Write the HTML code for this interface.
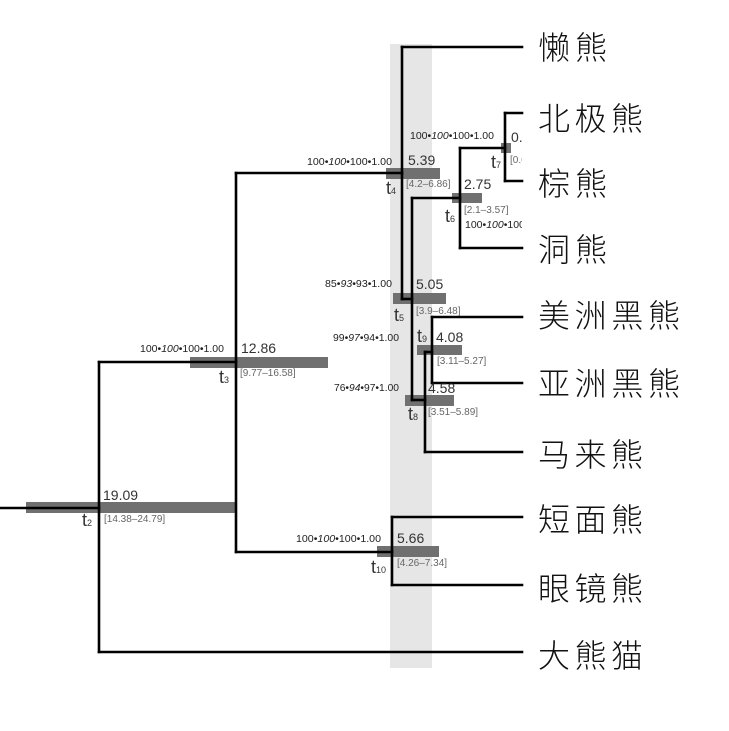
<!DOCTYPE html>
<html><head><meta charset="utf-8"><style>
html,body{margin:0;padding:0;background:#fff;}
svg{display:block;}
.sup{font-family:"Liberation Sans",sans-serif;font-size:10.5px;fill:#222;}
.num{font-family:"Liberation Sans",sans-serif;font-size:14px;fill:#333;}
.rng{font-family:"Liberation Sans",sans-serif;font-size:10px;fill:#666;}
.t{font-family:"Liberation Sans",sans-serif;font-size:18px;fill:#333;}
.ts{font-size:9px;}
.lab{font-family:"Liberation Sans","Noto Sans CJK SC",sans-serif;font-size:32px;fill:#111;font-weight:300;}
</style></head><body>
<svg width="729" height="731" viewBox="0 0 729 731" xmlns="http://www.w3.org/2000/svg">
<defs><clipPath id="c"><rect x="0" y="0" width="522" height="731"/></clipPath></defs>
<rect x="390" y="44" width="42" height="624" fill="#e6e6e6"/>
<g fill="#707070">
<rect x="26" y="502" width="210" height="11"/>
<rect x="190" y="357" width="138" height="11"/>
<rect x="386" y="168" width="54" height="11"/>
<rect x="452" y="193" width="30" height="10"/>
<rect x="501" y="143" width="10" height="10"/>
<rect x="393" y="293" width="53" height="11"/>
<rect x="417" y="345" width="45" height="10"/>
<rect x="405" y="395" width="49" height="11"/>
<rect x="377" y="546" width="62" height="11"/>
</g>
<g stroke="#000" stroke-width="2.6" fill="none" stroke-linecap="square">
<line x1="0" y1="508" x2="99" y2="508"/>
<line x1="99" y1="362" x2="99" y2="652"/>
<line x1="99" y1="362" x2="236" y2="362"/>
<line x1="99" y1="652" x2="522" y2="652"/>
<line x1="236" y1="173" x2="236" y2="552"/>
<line x1="236" y1="173" x2="402" y2="173"/>
<line x1="236" y1="552" x2="392" y2="552"/>
<line x1="402" y1="47" x2="402" y2="299"/>
<line x1="402" y1="47" x2="522" y2="47"/>
<line x1="402" y1="299" x2="412" y2="299"/>
<line x1="412" y1="198" x2="412" y2="400"/>
<line x1="412" y1="198" x2="460" y2="198"/>
<line x1="460" y1="148" x2="460" y2="248"/>
<line x1="460" y1="248" x2="522" y2="248"/>
<line x1="460" y1="148" x2="505" y2="148"/>
<line x1="505" y1="113" x2="505" y2="181"/>
<line x1="505" y1="113" x2="522" y2="113"/>
<line x1="505" y1="181" x2="522" y2="181"/>
<line x1="412" y1="400" x2="425" y2="400"/>
<line x1="425" y1="352" x2="425" y2="452"/>
<line x1="425" y1="452" x2="522" y2="452"/>
<line x1="425" y1="352" x2="432" y2="352"/>
<line x1="432" y1="317" x2="432" y2="383"/>
<line x1="432" y1="317" x2="522" y2="317"/>
<line x1="432" y1="383" x2="522" y2="383"/>
<line x1="392" y1="517" x2="392" y2="585"/>
<line x1="392" y1="517" x2="522" y2="517"/>
<line x1="392" y1="585" x2="522" y2="585"/>
</g>
<g clip-path="url(#c)">
<!-- t2 -->
<text class="num" x="103" y="500">19.09</text>
<text class="rng" x="104" y="522">[14.38–24.79]</text>
<text class="t" x="82" y="526">t<tspan class="ts">2</tspan></text>
<!-- t3 -->
<text class="sup" x="140" y="352" textLength="84" lengthAdjust="spacingAndGlyphs">100•<tspan font-style="italic">100</tspan>•100•1.00</text>
<text class="num" x="241" y="353">12.86</text>
<text class="rng" x="240" y="376">[9.77–16.58]</text>
<text class="t" x="219" y="383">t<tspan class="ts">3</tspan></text>
<!-- t4 -->
<text class="sup" x="307" y="165" textLength="85" lengthAdjust="spacingAndGlyphs">100•<tspan font-style="italic">100</tspan>•100•1.00</text>
<text class="num" x="408" y="165">5.39</text>
<text class="rng" x="406" y="187">[4.2–6.86]</text>
<text class="t" x="386" y="194">t<tspan class="ts">4</tspan></text>
<!-- t7 -->
<text class="sup" x="410" y="139" textLength="84" lengthAdjust="spacingAndGlyphs">100•<tspan font-style="italic">100</tspan>•100•1.00</text>
<text class="num" x="511" y="142">0.50</text>
<text class="rng" x="510" y="163">[0.64]</text>
<text class="t" x="491" y="168">t<tspan class="ts">7</tspan></text>
<!-- t6 -->
<text class="num" x="464" y="189">2.75</text>
<text class="rng" x="464" y="213">[2.1–3.57]</text>
<text class="t" x="445" y="222">t<tspan class="ts">6</tspan></text>
<text class="sup" x="465" y="228" textLength="84" lengthAdjust="spacingAndGlyphs">100•<tspan font-style="italic">100</tspan>•100•1.00</text>
<!-- t5 -->
<text class="sup" x="325" y="287" textLength="67" lengthAdjust="spacingAndGlyphs">85•<tspan font-style="italic">93</tspan>•93•1.00</text>
<text class="num" x="416" y="289">5.05</text>
<text class="rng" x="416" y="314">[3.9–6.48]</text>
<text class="t" x="394" y="321">t<tspan class="ts">5</tspan></text>
<!-- t9 -->
<text class="sup" x="333" y="341" textLength="66" lengthAdjust="spacingAndGlyphs">99•<tspan font-style="italic">97</tspan>•94•1.00</text>
<text class="t" x="417" y="342">t<tspan class="ts">9</tspan></text>
<text class="num" x="436" y="342">4.08</text>
<text class="rng" x="437" y="364">[3.11–5.27]</text>
<!-- t8 -->
<text class="sup" x="334" y="391" textLength="65" lengthAdjust="spacingAndGlyphs">76•<tspan font-style="italic">94</tspan>•97•1.00</text>
<text class="num" x="428" y="393">4.58</text>
<text class="rng" x="428" y="415">[3.51–5.89]</text>
<text class="t" x="408" y="420">t<tspan class="ts">8</tspan></text>
<!-- t10 -->
<text class="sup" x="296" y="542" textLength="85" lengthAdjust="spacingAndGlyphs">100•<tspan font-style="italic">100</tspan>•100•1.00</text>
<text class="num" x="397" y="543">5.66</text>
<text class="rng" x="397" y="566">[4.26–7.34]</text>
<text class="t" x="371" y="573">t<tspan class="ts">10</tspan></text>
</g>
<g class="lab">
<text class="lab" x="538" y="59" textLength="69" lengthAdjust="spacing">懒熊</text>
<text class="lab" x="538" y="130" textLength="105" lengthAdjust="spacing">北极熊</text>
<text class="lab" x="538" y="195" textLength="69" lengthAdjust="spacing">棕熊</text>
<text class="lab" x="538" y="261" textLength="69" lengthAdjust="spacing">洞熊</text>
<text class="lab" x="538" y="327" textLength="142" lengthAdjust="spacing">美洲黑熊</text>
<text class="lab" x="538" y="395" textLength="142" lengthAdjust="spacing">亚洲黑熊</text>
<text class="lab" x="538" y="466" textLength="105" lengthAdjust="spacing">马来熊</text>
<text class="lab" x="538" y="531" textLength="105" lengthAdjust="spacing">短面熊</text>
<text class="lab" x="538" y="600" textLength="105" lengthAdjust="spacing">眼镜熊</text>
<text class="lab" x="538" y="667" textLength="105" lengthAdjust="spacing">大熊猫</text>
</g>
</svg>
</body></html>
